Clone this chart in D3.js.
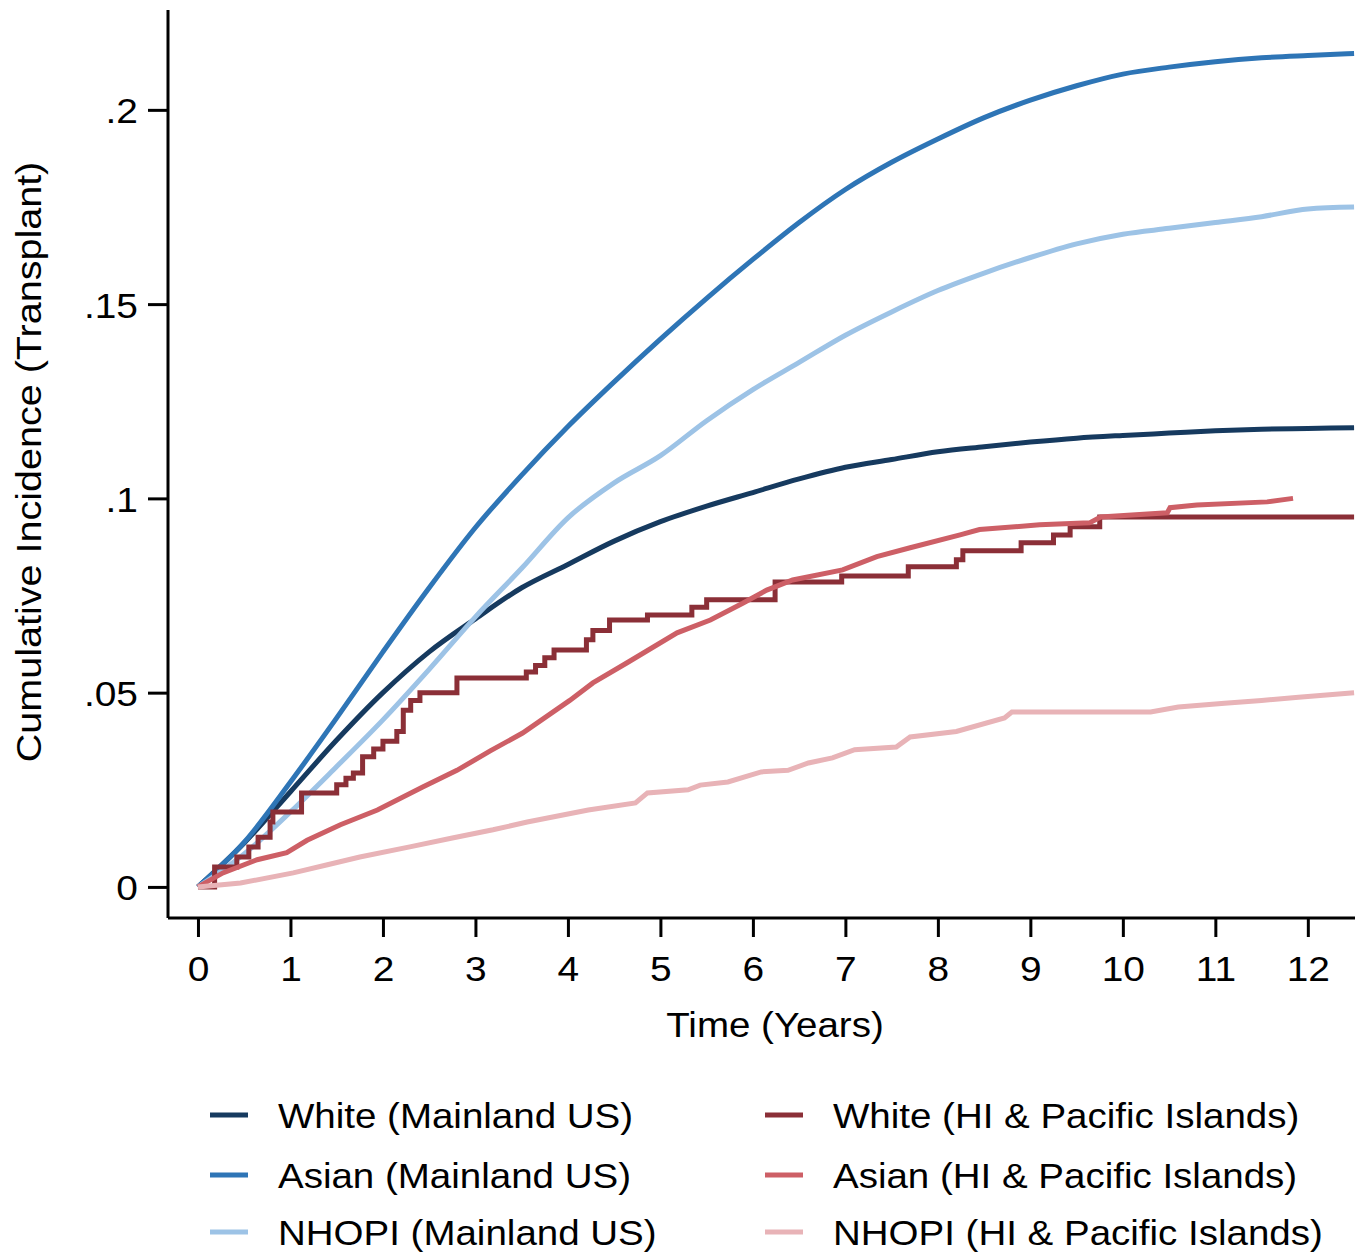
<!DOCTYPE html>
<html><head><meta charset="utf-8">
<script src="https://cdn.jsdelivr.net/npm/d3@7"></script>
<style>body{margin:0;background:#fff}svg{display:block}text{font-family:"Liberation Sans",Arial,sans-serif;fill:#000}</style>
</head><body>
<svg id="c" width="1370" height="1259"></svg>
<script>
// ---- data ----
const tMain = [0,0.5,1,1.5,2,2.5,3,3.5,4,4.5,5,5.5,6,6.5,7,7.5,8,8.5,9,9.5,10,10.5,11,11.5,12,12.5];
const whiteMain = [0,0.0113,0.0245,0.0378,0.050,0.0605,0.069,0.077,0.083,0.089,0.094,0.098,0.1015,0.105,0.108,0.110,0.112,0.1133,0.1145,0.1155,0.1162,0.1168,0.1174,0.1178,0.118,0.1182];
const asianMain = [0,0.0115,0.027,0.0435,0.0605,0.077,0.0925,0.106,0.1185,0.130,0.141,0.1515,0.1615,0.171,0.1795,0.1865,0.1925,0.198,0.2025,0.2062,0.2092,0.211,0.2124,0.2134,0.214,0.2145];
const nhopiMain = [0,0.0085,0.0193,0.031,0.043,0.056,0.0695,0.082,0.095,0.104,0.111,0.12,0.128,0.135,0.142,0.148,0.1535,0.158,0.162,0.1655,0.168,0.1695,0.171,0.1725,0.1745,0.175];

const tWhiteHI = [0,0.18,0.42,0.55,0.65,0.78,0.81,1.12,1.5,1.6,1.68,1.78,1.9,2.0,2.15,2.22,2.3,2.4,2.8,3.55,3.65,3.75,3.85,4.2,4.27,4.45,4.86,5.34,5.5,6.24,6.96,7.68,8.2,8.27,8.9,9.25,9.43,9.75,12.5];
const whiteHI  = [0,0.0051,0.0077,0.0103,0.0128,0.0167,0.0193,0.0242,0.0263,0.028,0.0293,0.0335,0.0355,0.0375,0.040,0.0455,0.048,0.050,0.0538,0.0553,0.057,0.059,0.061,0.0636,0.066,0.0687,0.070,0.072,0.0739,0.0785,0.080,0.0824,0.0842,0.0865,0.0886,0.0906,0.0927,0.0952,0.0952];

const tAsianHI = [0,0.27,0.64,0.96,1.18,1.54,1.94,2.43,2.8,3.16,3.51,4.02,4.27,4.64,5.18,5.54,5.89,6.15,6.43,6.97,7.34,7.7,8.24,8.45,9.1,9.64,9.76,10.48,10.51,10.8,11.56,11.84];
const asianHI  = [0,0.0036,0.007,0.0088,0.012,0.016,0.0198,0.0257,0.030,0.035,0.0396,0.048,0.0525,0.0577,0.0654,0.0687,0.073,0.0764,0.079,0.0816,0.085,0.0873,0.0906,0.092,0.0932,0.0937,0.0952,0.0963,0.0976,0.0983,0.0991,0.100];

const tNhopiHI = [0,0.46,1.03,1.4,1.75,2.29,2.75,3.19,3.56,4.22,4.73,4.86,5.3,5.43,5.73,6.09,6.38,6.6,6.86,7.1,7.55,7.70,8.2,8.72,8.8,10.3,10.6,11.1,11.5,11.9,12.5];
const nhopiHI  = [0,0.001,0.0036,0.0057,0.0077,0.0103,0.0126,0.0147,0.0167,0.0198,0.0216,0.0242,0.025,0.0262,0.027,0.0296,0.030,0.0319,0.0332,0.0353,0.036,0.0386,0.040,0.0435,0.045,0.045,0.0463,0.0473,0.048,0.0488,0.050];

const xTicks = [0,1,2,3,4,5,6,7,8,9,10,11,12];
const yTicks = [0,0.05,0.1,0.15,0.2];
const yTickLabels = ["0",".05",".1",".15",".2"];

const seriesNames = ["White (Mainland US)","Asian (Mainland US)","NHOPI (Mainland US)","White (HI & Pacific Islands)","Asian (HI & Pacific Islands)","NHOPI (HI & Pacific Islands)"];
const seriesColors = ["#163a5f","#2e75b6","#9dc3e6","#8b2f37","#cd5f66","#e8b3b7"];

// ---- chart ----
const svg = d3.select("#c");
const xs = d3.scaleLinear().domain([-0.324, 12.51]).range([168, 1355]);
const ys = d3.scaleLinear().domain([-0.008, 0.2257]).range([918, 10]);

const mk = (ts, vs) => ts.map((t,i)=>[t, vs[i]]);
const series = [
  {d: mk(tMain, whiteMain), curve: d3.curveMonotoneX},
  {d: mk(tMain, asianMain), curve: d3.curveMonotoneX},
  {d: mk(tMain, nhopiMain), curve: d3.curveMonotoneX},
  {d: mk(tWhiteHI, whiteHI), curve: d3.curveStepAfter},
  {d: mk(tAsianHI, asianHI), curve: d3.curveLinear},
  {d: mk(tNhopiHI, nhopiHI), curve: d3.curveLinear},
];

const g = svg.append("g");
series.forEach((s,i)=>{
  const line = d3.line().x(d=>xs(d[0])).y(d=>ys(d[1])).curve(s.curve);
  g.append("path").attr("d", line(s.d)).attr("fill","none")
   .attr("stroke", seriesColors[i]).attr("stroke-width",5).attr("stroke-linejoin","miter");
});

// axes
const yAxis = d3.axisLeft(ys).tickValues(yTicks).tickSize(20).tickPadding(10).tickFormat((d,i)=>yTickLabels[i]);
const xAxis = d3.axisBottom(xs).tickValues(xTicks).tickSize(19).tickPadding(18).tickFormat(d3.format("d"));
const ya = svg.append("g").attr("transform","translate(168,0)").call(yAxis);
const xa = svg.append("g").attr("transform","translate(0,918)").call(xAxis);
[ya,xa].forEach(a=>{
  a.select(".domain").attr("stroke","#000").attr("stroke-width",3);
  a.selectAll(".tick line").attr("stroke","#000").attr("stroke-width",3);
  a.selectAll(".tick text").attr("font-size",36).attr("fill","#000")
   .attr("font-family",'"Liberation Sans",Arial,sans-serif');
});
ya.select(".domain").attr("d","M0,10V918");
xa.select(".domain").attr("d","M168,0H1355");
ya.selectAll(".tick text").each(function(){
  const t=d3.select(this); const xx=+t.attr("x");
  t.attr("x",null).attr("transform",`translate(${xx},0) scale(1.08,1)`).attr("dy","0.36em");
});
xa.selectAll(".tick text").each(function(){
  const t=d3.select(this); const yy=+t.attr("y");
  t.attr("y",null).attr("transform",`translate(0,${yy}) scale(1.08,1)`).attr("dy","0.71em");
});

// titles
svg.append("text").attr("transform","translate(775,1037) scale(1.1,1)")
  .attr("text-anchor","middle").attr("font-size",35).text("Time (Years)");
svg.append("text").attr("transform","translate(41,462) rotate(-90) scale(1.13,1)")
  .attr("text-anchor","middle").attr("font-size",35).text("Cumulative Incidence (Transplant)");

// legend
const legRows = [1115,1175,1232];
const legCols = [{lx:210, tx:278},{lx:765, tx:833}];
seriesNames.forEach((name,i)=>{
  const col = legCols[Math.floor(i/3)], ry = legRows[i%3];
  svg.append("line").attr("x1",col.lx).attr("x2",col.lx+38).attr("y1",ry).attr("y2",ry)
    .attr("stroke",seriesColors[i]).attr("stroke-width",5);
  svg.append("text").attr("transform",`translate(${col.tx},${ry+12.5}) scale(1.1,1)`)
    .attr("font-size",35).text(name);
});
</script>
</body></html>
